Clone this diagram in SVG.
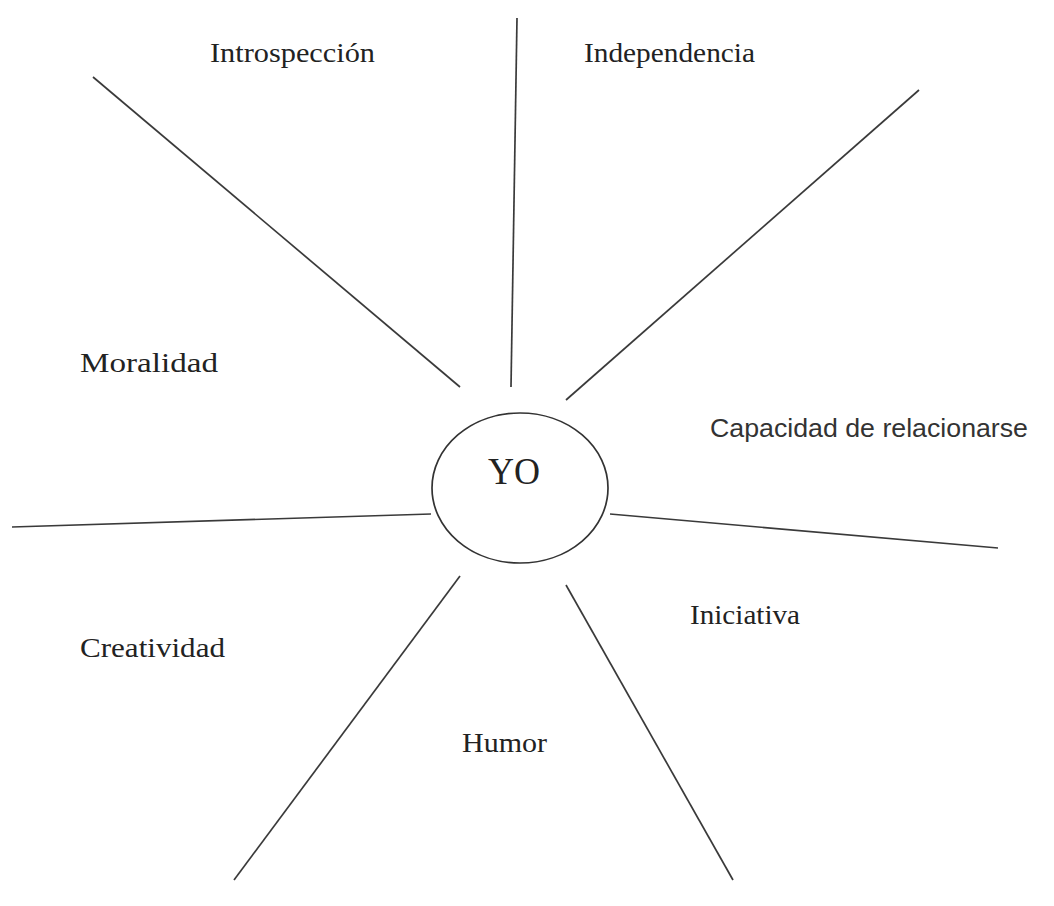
<svg xmlns="http://www.w3.org/2000/svg" width="1054" height="906" viewBox="0 0 1054 906">
<style>
.ln{stroke:#3a3a3a;stroke-width:1.7;fill:none}
.s{font-family:"Liberation Serif","Times New Roman",serif;font-size:27px;fill:#222}
.a{font-family:"Liberation Sans",Arial,sans-serif;font-size:25px;fill:#333}
</style>
<rect width="1054" height="906" fill="#fff"/>
<g id="connectors">
<line class="ln" x1="93" y1="77" x2="460" y2="387"/>
<line class="ln" x1="517" y1="18" x2="511" y2="387"/>
<line class="ln" x1="919" y1="90" x2="566" y2="400"/>
<line class="ln" x1="12" y1="527" x2="431" y2="514"/>
<line class="ln" x1="610" y1="514" x2="998" y2="548"/>
<line class="ln" x1="460" y1="576" x2="234" y2="880"/>
<line class="ln" x1="566" y1="585" x2="733" y2="880"/>
</g>
<g id="yo">
<ellipse cx="520" cy="488" rx="88" ry="75" fill="#fff" stroke="#333" stroke-width="1.7"/>
<text x="488" y="484" font-family="Liberation Serif,serif" font-size="38" fill="#222" textLength="52" lengthAdjust="spacingAndGlyphs">YO</text>
</g>
<g id="introspeccion"><text class="s" x="210" y="62" textLength="165" lengthAdjust="spacingAndGlyphs">Introspección</text></g>
<g id="independencia"><text class="s" x="584" y="62" textLength="171" lengthAdjust="spacingAndGlyphs">Independencia</text></g>
<g id="moralidad"><text class="s" x="80" y="372" textLength="138" lengthAdjust="spacingAndGlyphs">Moralidad</text></g>
<g id="capacidad"><text class="a" x="710" y="437" textLength="318" lengthAdjust="spacingAndGlyphs">Capacidad de relacionarse</text></g>
<g id="iniciativa"><text class="s" x="690" y="624" textLength="110" lengthAdjust="spacingAndGlyphs">Iniciativa</text></g>
<g id="creatividad"><text class="s" x="80" y="657" textLength="145" lengthAdjust="spacingAndGlyphs">Creatividad</text></g>
<g id="humor"><text class="s" x="462" y="752" textLength="85" lengthAdjust="spacingAndGlyphs">Humor</text></g>
</svg>
